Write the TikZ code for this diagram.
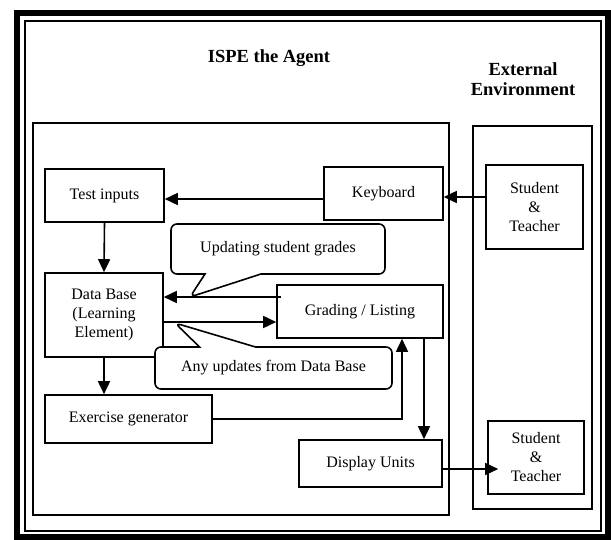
\documentclass[tikz,border=0pt]{standalone}
\usepackage{fontspec}
\setmainfont{Liberation Serif}
\usetikzlibrary{arrows.meta,shapes.callouts}
\begin{document}
\begin{tikzpicture}[x=1pt, y=-1pt, line width=1.6pt,
    every node/.style={font=\fontsize{16}{19}\selectfont, align=center, inner sep=0pt},
    box/.style={draw, fill=white, minimum width=#1},
    note/.style={rectangle callout, draw, fill=white, rounded corners=6pt, callout pointer width=56pt},
    arr/.style={-{Triangle[length=13pt,width=12pt]}},
    title/.style={font=\fontsize{18.5}{20}\selectfont\bfseries}]
    \useasboundingbox (0,0) rectangle (611,540);
    \draw[line width=6pt] (17,13) rectangle (608,537);
    \draw (25,21) rectangle (601,531);
    \draw (33,123) rectangle (449,515);
    \draw (473,126) rectangle (592,509);
    \node[title] (agent) at (269,58) {ISPE the Agent};
    \node[title] (env) at (523,79) {External\\Environment};
    \node[box=119pt, minimum height=53pt] (test) at (104.5,195.5) {Test inputs};
    \node[box=119pt, minimum height=53pt] (kbd) at (383.5,193.5) {Keyboard};
    \node[box=97pt, minimum height=84pt] (stud1) at (534.5,207) {Student\\\&\\Teacher};
    \node[box=118pt, minimum height=84pt] (db) at (104,315) {Data Base\\(Learning\\Element)};
    \node[box=166pt, minimum height=53pt] (grad) at (360,311.5) {Grading / Listing};
    \node[box=167pt, minimum height=48pt] (exer) at (128.5,419) {Exercise generator};
    \node[box=143pt, minimum height=47pt] (disp) at (370.5,463.5) {Display Units};
    \node[box=96pt, minimum height=73pt] (stud2) at (536,457.5) {Student\\\&\\Teacher};
    \node[note, minimum width=214pt, minimum height=50pt, callout absolute pointer={(190,297)}] (upd) at (278,249) {Updating student grades};
    \node[note, minimum width=237pt, minimum height=42pt, callout absolute pointer={(175,323)}] (any) at (273.5,368) {Any updates from Data Base};
    \draw[arr] (stud1.west |- 0,197) -- (kbd.east |- 0,197);
    \draw[arr] (kbd.west |- 0,199) -- (test.east |- 0,199);
    \draw[arr] (test.south) -- (db.north);
    \draw[arr] ([xshift=5pt]grad.west |- 0,297) -- (db.east |- 0,297);
    \draw[arr] (db.east |- 0,322) -- (grad.west |- 0,322);
    \draw[arr] (db.south) -- (exer.north -| db.south);
    \draw[arr] (exer.east) -| ([xshift=42pt]grad.south);
    \draw[arr] ([xshift=64pt]grad.south) -- ([xshift=64pt]grad.south |- disp.north);
    \draw[arr] (disp.east |- 0,469) -- ([xshift=11pt]stud2.west |- 0,469);
\end{tikzpicture}
\end{document}
